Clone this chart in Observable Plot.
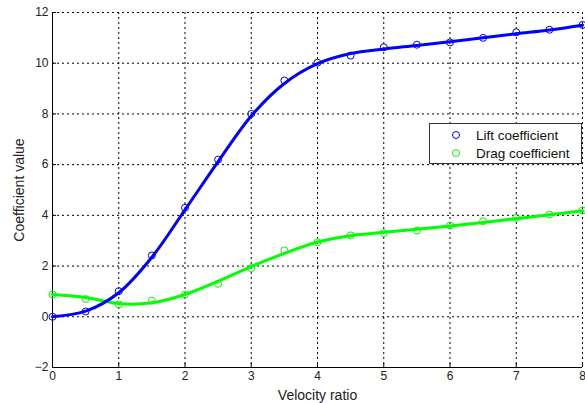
<!DOCTYPE html>
<html>
<head>
<meta charset="utf-8">
<script src="https://cdn.jsdelivr.net/npm/d3@7"></script>
<script src="https://cdn.jsdelivr.net/npm/@observablehq/plot@0.6"></script>
<style>
  html, body { margin: 0; padding: 0; background: #fff; }
  #wrap { position: relative; width: 585px; height: 403px; font-family: "Liberation Sans", Arial, sans-serif; }
  #wrap svg [aria-label="x-axis label"] text, #wrap svg [aria-label="y-axis label"] text { font-size: 14px; fill: #222; }
  #wrap svg [aria-label="x-axis tick label"] text, #wrap svg [aria-label="y-axis tick label"] text { fill: #222; }
  #legend { position: absolute; left: 429px; top: 123px; width: 153px; height: 41px; border: 1px solid #333; background: #fff; box-sizing: border-box; font-size: 13.5px; color: #111; }
  #legend .row { position: absolute; left: 0; height: 16px; display: flex; align-items: center; }
  #legend .row span { position: absolute; left: 46px; white-space: nowrap; }
  #legend svg { position: absolute; left: 21px; top: 3px; }
</style>
</head>
<body>
<div id="wrap"></div>
<script>
const velocity = [0, 0.5, 1, 1.5, 2, 2.5, 3, 3.5, 4, 4.5, 5, 5.5, 6, 6.5, 7, 7.5, 8];
const liftMarkers = [0, 0.21, 1.01, 2.42, 4.3, 6.2, 8.0, 9.32, 10.02, 10.3, 10.63, 10.73, 10.82, 11.0, 11.22, 11.32, 11.51];
const dragMarkers = [0.88, 0.7, 0.49, 0.64, 0.88, 1.3, 1.92, 2.62, 2.94, 3.21, 3.3, 3.4, 3.6, 3.77, 3.9, 4.03, 4.19];
const liftFit = [0, 0.22, 0.95, 2.35, 4.22, 6.12, 7.92, 9.2, 9.98, 10.38, 10.56, 10.7, 10.85, 11.0, 11.16, 11.31, 11.5];
const dragFit = [0.88, 0.76, 0.52, 0.55, 0.88, 1.4, 1.98, 2.5, 2.95, 3.2, 3.33, 3.45, 3.58, 3.72, 3.87, 4.02, 4.18];
const xTicks = [0, 1, 2, 3, 4, 5, 6, 7, 8];
const yTicks = [-2, 0, 2, 4, 6, 8, 10, 12];
const seriesNames = ["Lift coefficient", "Drag coefficient"];
const seriesColors = ["#0000ff", "#00ff00"];

const lift = velocity.map((v, i) => ({x: v, m: liftMarkers[i], f: liftFit[i]}));
const drag = velocity.map((v, i) => ({x: v, m: dragMarkers[i], f: dragFit[i]}));

const plot = Plot.plot({
  width: 585,
  height: 403,
  marginLeft: 52,
  marginRight: 3,
  marginTop: 12,
  marginBottom: 36,
  style: {fontFamily: "Liberation Sans, Arial, sans-serif", fontSize: "12px", color: "#000", background: "#fff"},
  x: {domain: [0, 8]},
  y: {domain: [-2, 12]},
  marks: [
    Plot.gridX(xTicks, {stroke: "#000", strokeOpacity: 1, strokeDasharray: "2,3", strokeWidth: 1}),
    Plot.gridY(yTicks, {stroke: "#000", strokeOpacity: 1, strokeDasharray: "2,3", strokeWidth: 1}),
    Plot.axisX(xTicks, {tickSize: -4, tickPadding: 8, label: "Velocity ratio", labelAnchor: "center", labelArrow: "none", labelOffset: 32, fontSize: 12}),
    Plot.axisY(yTicks, {tickSize: -4, tickPadding: 8, label: "Coefficient value", labelAnchor: "center", labelArrow: "none", labelOffset: 38, fontSize: 12}),
    Plot.ruleY([-2], {stroke: "#000", strokeWidth: 1}),
    Plot.ruleX([0], {stroke: "#000", strokeWidth: 1}),
    Plot.line(drag, {x: "x", y: "f", stroke: seriesColors[1], strokeWidth: 3, curve: "catmull-rom"}),
    Plot.line(lift, {x: "x", y: "f", stroke: seriesColors[0], strokeWidth: 3, curve: "catmull-rom"}),
    Plot.dot(drag, {x: "x", y: "m", r: 3.5, stroke: seriesColors[1], strokeWidth: 1, fill: "none"}),
    Plot.dot(lift, {x: "x", y: "m", r: 3.5, stroke: seriesColors[0], strokeWidth: 1, fill: "none"})
  ]
});

const wrap = document.getElementById("wrap");
wrap.appendChild(plot);
const legend = document.createElement("div");
legend.id = "legend";
seriesNames.forEach((name, i) => {
  const row = document.createElement("div");
  row.className = "row";
  row.style.top = (3 + i * 18) + "px";
  row.style.width = "100%";
  row.innerHTML = `<svg width="10" height="10"><circle cx="5" cy="5" r="3.5" fill="none" stroke="${seriesColors[i]}" stroke-width="1"/></svg><span>${name}</span>`;
  legend.appendChild(row);
});
wrap.appendChild(legend);
</script>
</body>
</html>
